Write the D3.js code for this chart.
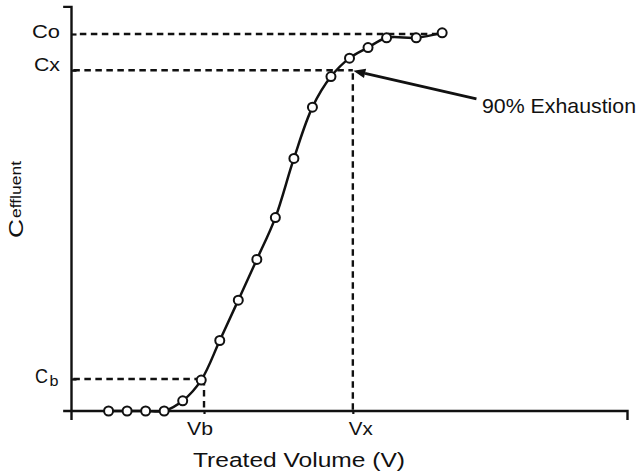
<!DOCTYPE html>
<html><head><meta charset="utf-8">
<script src="https://cdn.jsdelivr.net/npm/d3@7"></script>
<style>body{margin:0;background:#fff}svg{display:block}text{font-family:"Liberation Sans",Arial,sans-serif;fill:#111}</style>
</head><body><svg id="c" width="637" height="476"></svg>
<script>
// ---- data ----
const volumes = [2,3,4,5,6,7,8,9,10,11,12,13,14,15,16,17,18.6,20];
const concentrations = [0,0,0,0,0.027,0.082,0.187,0.294,0.402,0.513,0.670,0.806,0.887,0.936,0.964,0.990,0.990,1.003];
const cLevels = [1.0, 0.904, 0.085];          // Co, Cx, Cb
const cLevelLabels = ["Co", "Cx", "Cb"];
const vMarks = [7.15, 15.18];                   // Vb, Vx
const vMarkLabels = ["Vb", "Vx"];
const annotationText = "90% Exhaustion";
const xTitle = "Treated Volume (V)";
const yTitleParts = ["C", "effluent"];

const svg = d3.select("#c");
svg.append("rect").attr("width",637).attr("height",476).attr("fill","#fff");

const x = d3.scaleLinear().domain([0,30]).range([71.5,627.5]);
const y = d3.scaleLinear().domain([0,1]).range([411,34]);

const ink = "#111";
const [Co, Cx, Cb] = cLevels;
const [Vb, Vx] = vMarks;

// ---- dashed guides ----
const dash = "6.5,4.5";
function dline(x1,y1,x2,y2){
  svg.append("line").attr("x1",x(x1)).attr("y1",y(y1)).attr("x2",x(x2)).attr("y2",y(y2))
    .attr("stroke",ink).attr("stroke-width",2.4).attr("stroke-dasharray",dash);
}
dline(0.45, Co, 20, Co);
dline(0.1, Cx, Vx, Cx);
dline(Vx, Cx-0.008, Vx, 0);
dline(0.1, Cb, Vb, Cb);
dline(Vb, Cb, Vb, 0);

// ---- axes ----
const yAxis = d3.axisLeft(y).tickValues(cLevels).tickSize(-5).tickFormat("");
const gy = svg.append("g").attr("transform",`translate(${x(0)},0)`).call(yAxis);
gy.select(".domain").remove();
gy.selectAll("line").attr("stroke",ink).attr("stroke-width",2.2);
const xAxis = d3.axisBottom(x).tickValues(vMarks).tickSize(3).tickFormat("");
const gx = svg.append("g").attr("transform",`translate(0,${y(0)})`).call(xAxis);
gx.select(".domain").remove();
gx.selectAll("line").attr("stroke",ink).attr("stroke-width",2.2);

svg.append("path")
  .attr("d", d3.line()([[x(-0.45), y(1.072)],[x(0), y(1.072)],[x(0), y(-0.024)]]))
  .attr("fill","none").attr("stroke",ink).attr("stroke-width",2.4);
svg.append("path")
  .attr("d", d3.line()([[x(-0.45), y(0)],[x(30), y(0)],[x(30), y(-0.024)]]))
  .attr("fill","none").attr("stroke",ink).attr("stroke-width",2.4);

// ---- curve ----
const pts = volumes.map((v,i)=>[v, concentrations[i]]);
svg.append("path")
  .attr("d", d3.line().x(d=>x(d[0])).y(d=>y(d[1])).curve(d3.curveCatmullRom.alpha(0.5))(pts))
  .attr("fill","none").attr("stroke",ink).attr("stroke-width",2.5);
svg.selectAll("circle.pt").data(pts).enter().append("circle")
  .attr("class","pt").attr("cx",d=>x(d[0])).attr("cy",d=>y(d[1])).attr("r",4.5)
  .attr("fill","#fff").attr("stroke",ink).attr("stroke-width",2);

// ---- annotation arrow ----
const tail = [x(21.85), y(0.828)];
const tip = [x(Vx)+0.5, y(Cx)+0.5];
const ang = Math.atan2(tip[1]-tail[1], tip[0]-tail[0]);
const hl = 12, hw = 4.8;
const base = [tip[0]-hl*Math.cos(ang), tip[1]-hl*Math.sin(ang)];
svg.append("line").attr("x1",tail[0]).attr("y1",tail[1]).attr("x2",base[0]).attr("y2",base[1])
  .attr("stroke",ink).attr("stroke-width",2.8);
svg.append("path").attr("d", d3.line()([
  tip,
  [base[0]+hw*Math.sin(ang), base[1]-hw*Math.cos(ang)],
  [base[0]-hw*Math.sin(ang), base[1]+hw*Math.cos(ang)]
]) + "Z").attr("fill",ink);

// ---- text ----
function txt(str, px, py, size, len, anchor){
  const t = svg.append("text").attr("x",px).attr("y",py).attr("font-size",size)
    .attr("text-anchor",anchor||"start").text(str);
  if(len) t.attr("textLength",len).attr("lengthAdjust","spacingAndGlyphs");
  return t;
}
txt(annotationText, x(22.15), 113, 21, 154);
txt(xTitle, 193, 467, 20.5, 212);
txt(vMarkLabels[0], x(Vb)-4, 435, 18, 26, "middle");
txt(vMarkLabels[1], x(Vx)+8, 435, 18, 24, "middle");
txt(cLevelLabels[0], 60, y(Co)+4, 18, 28, "end");
txt(cLevelLabels[1], 60, y(Cx)+1, 18, 26, "end");
txt(cLevelLabels[2][0], 35, y(Cb)+4, 20, 13);
txt(cLevelLabels[2][1], 49.5, y(Cb)+7, 14, 9);

// y title
svg.append("text").attr("transform","translate(23,238) rotate(-90)").attr("font-size",21)
  .attr("textLength",19).attr("lengthAdjust","spacingAndGlyphs").text(yTitleParts[0]);
svg.append("text").attr("transform","translate(21,218) rotate(-90)").attr("font-size",15)
  .attr("textLength",57).attr("lengthAdjust","spacingAndGlyphs").text(yTitleParts[1]);
</script></body></html>
